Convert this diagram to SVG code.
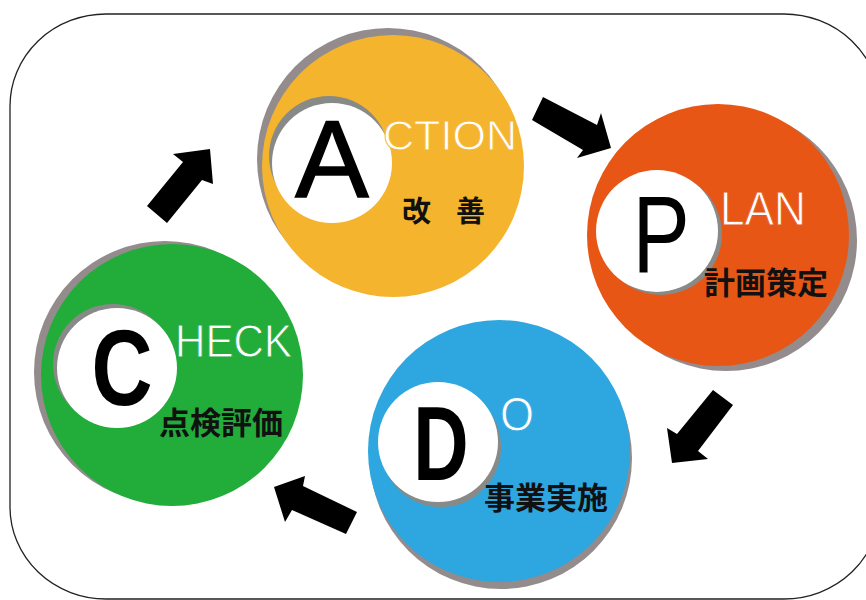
<svg xmlns="http://www.w3.org/2000/svg" width="866" height="600" viewBox="0 0 866 600">
<style>
.shadow{fill:#938B8C}
.ishadow{fill:#878A86}
.inner{fill:#FFFFFF}
.big{font-family:"Liberation Sans",Arial,sans-serif;fill:#000;text-anchor:middle}
.word{font-family:"Liberation Sans",Arial,sans-serif;fill:#FFFFFF;stroke-width:0.9}
.jp{font-family:"Noto Sans CJK JP","Noto Sans CJK SC",sans-serif;font-weight:bold;fill:#111}
.arrow{fill:#000}
</style>
<rect x="0" y="0" width="866" height="600" fill="#FFFFFF"/>
<rect x="10" y="14" width="870" height="585" rx="96" ry="92" fill="none" stroke="#222" stroke-width="1.3"/>

<g id="action">
  <circle class="shadow" cx="388" cy="159" r="131"/>
  <circle cx="393" cy="166" r="131" fill="#F5B42E"/>
  <circle class="ishadow" cx="329" cy="156" r="60"/>
  <circle class="inner" cx="332" cy="163" r="60"/>
  <text class="big" x="332" y="197" font-size="110" stroke="#000" stroke-width="1.6">A</text>
  <text class="word" x="383" y="150" font-size="42" textLength="134" lengthAdjust="spacingAndGlyphs" stroke="#F5B42E">CTION</text>
  <text class="jp" x="402" y="222" font-size="29">改</text>
  <text class="jp" x="456" y="222" font-size="29">善</text>
</g>

<g id="plan">
  <circle class="shadow" cx="726" cy="240" r="131"/>
  <circle cx="718" cy="235" r="131" fill="#E85615"/>
  <circle class="ishadow" cx="661" cy="234" r="61"/>
  <circle class="inner" cx="657" cy="231" r="61"/>
  <text class="big" transform="translate(661,272) scale(0.78,1)" x="0" y="0" font-size="110">P</text>
  <text class="word" x="720" y="225" font-size="48" textLength="86" lengthAdjust="spacingAndGlyphs" stroke="#E85615">LAN</text>
  <text class="jp" x="704" y="294" font-size="31">計画策定</text>
</g>

<g id="do">
  <circle class="shadow" cx="501" cy="458" r="131"/>
  <circle cx="499" cy="451" r="131" fill="#2EA6DF"/>
  <circle class="ishadow" cx="441" cy="447" r="60"/>
  <circle class="inner" cx="438" cy="442" r="60"/>
  <text class="big" transform="translate(441,480) scale(0.73,1)" x="0" y="0" font-size="105" font-weight="bold">D</text>
  <text class="word" x="500" y="431" font-size="48" textLength="34" lengthAdjust="spacingAndGlyphs" stroke="#2EA6DF">O</text>
  <text class="jp" x="484" y="509" font-size="31">事業実施</text>
</g>

<g id="check">
  <circle class="shadow" cx="165" cy="372" r="131"/>
  <circle cx="172" cy="375" r="131" fill="#22AC3A"/>
  <circle class="ishadow" cx="113" cy="364" r="60"/>
  <circle class="inner" cx="117" cy="368" r="60"/>
  <text class="big" transform="translate(122,405) scale(0.79,1)" x="0" y="0" font-size="107" font-weight="bold">C</text>
  <text class="word" x="175" y="357" font-size="47" textLength="117" lengthAdjust="spacingAndGlyphs" stroke="#22AC3A">HECK</text>
  <text class="jp" x="159" y="434" font-size="31">点検評価</text>
</g>

<g id="connectors">
  <polygon class="arrow" points="147,206 183,162 173,154 210,149 213,184 202,180 167,223"/>
  <polygon class="arrow" points="543,97 597,125 601,113 611,148 577,158 583,150 532,120"/>
  <polygon class="arrow" points="713,390 733,405 698,451 708,459 672,463 667,428 677,434"/>
  <polygon class="arrow" points="357,512 303,486 305,476 274,487 285,522 292,510 346,534"/>
</g>
</svg>
